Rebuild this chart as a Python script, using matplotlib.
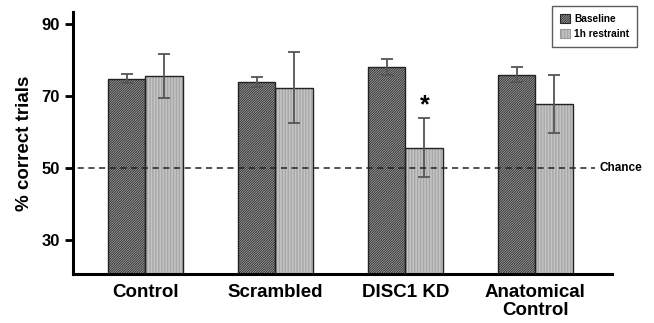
import matplotlib.pyplot as plt
from matplotlib.patches import Patch
import numpy as np

plt.rcParams['font.family'] = ['Liberation Sans', 'DejaVu Sans']
plt.rcParams['font.weight'] = 'bold'
plt.rcParams['hatch.linewidth'] = 0.55

groups = ["Control", "Scrambled", "DISC1 KD", "Anatomical\nControl"]
baseline = [74.8, 73.8, 78.1, 75.9]
baseline_err = [1.2, 1.4, 2.2, 2.2]
restraint = [75.4, 72.3, 55.6, 67.8]
restraint_err = [6.1, 10.0, 8.1, 8.1]
series_names = ["Baseline", "1h restraint"]
chance = 50

x = np.arange(len(groups))
w = 0.29

fig = plt.figure(figsize=(6.54, 3.23), dpi=100)
ax = fig.add_axes([0.112, 0.152, 0.824, 0.811])

styles = [dict(face="#9c9c9c", hatch="/" * 14, hcol="#262626"),
          dict(face="#d4d4d4", hatch="|" * 11, hcol="#9a9a9a")]

for vals, errs, off, st in [(baseline, baseline_err, -w / 2, styles[0]),
                            (restraint, restraint_err, w / 2, styles[1])]:
    ax.bar(x + off, vals, w, bottom=0, color=st["face"], hatch=st["hatch"],
           edgecolor=st["hcol"], linewidth=0, zorder=2)
    ax.bar(x + off, vals, w, bottom=0, facecolor="none", edgecolor="#222222",
           linewidth=1.0, zorder=3)
    ax.errorbar(x + off, vals, yerr=errs, fmt="none", ecolor="#555555",
                elinewidth=1.3, capsize=4, capthick=1.3, zorder=4)

ax.plot([-0.6, 3.46], [chance, chance], ls=(0, (4, 3)), color="#222222", lw=1.1, zorder=5)
ax.text(3.495, chance, "Chance", va="center", ha="left", fontsize=8.5,
        fontweight="bold", clip_on=False)

ax.text(x[2] + w / 2, restraint[2] + restraint_err[2] + 0.3, "*", ha="center",
        va="bottom", fontsize=18, fontweight="bold")

ax.set_xlim(-0.555, 3.59)
ax.set_ylim(20.5, 93.3)
ax.set_yticks([30, 50, 70, 90])
ax.set_xticks(x)
ax.set_xticklabels(groups, fontsize=13.5, fontweight="bold", linespacing=1.1)
ax.set_ylabel("% correct trials", fontsize=13.5, fontweight="bold", labelpad=6)
for lab in ax.get_yticklabels():
    lab.set_fontsize(12)
    lab.set_fontweight("bold")
ax.tick_params(axis="y", direction="out", length=6, width=2)
ax.tick_params(axis="x", length=0, pad=7)
ax.spines["top"].set_visible(False)
ax.spines["right"].set_visible(False)
ax.spines["left"].set_linewidth(2.2)
ax.spines["bottom"].set_linewidth(2.2)

handles = [Patch(facecolor=st["face"], hatch=st["hatch"], edgecolor=st["hcol"],
                 linewidth=0.8) for st in styles]
leg = fig.legend(handles, series_names, loc="upper right", bbox_to_anchor=(0.982, 0.997),
                 fontsize=7.3, frameon=True, fancybox=False, edgecolor="#333333",
                 handlelength=1.0, handleheight=1.0, handletextpad=0.4,
                 borderpad=0.8, labelspacing=0.5)
leg.get_frame().set_linewidth(1.0)

fig.savefig("out.png", dpi=100)
